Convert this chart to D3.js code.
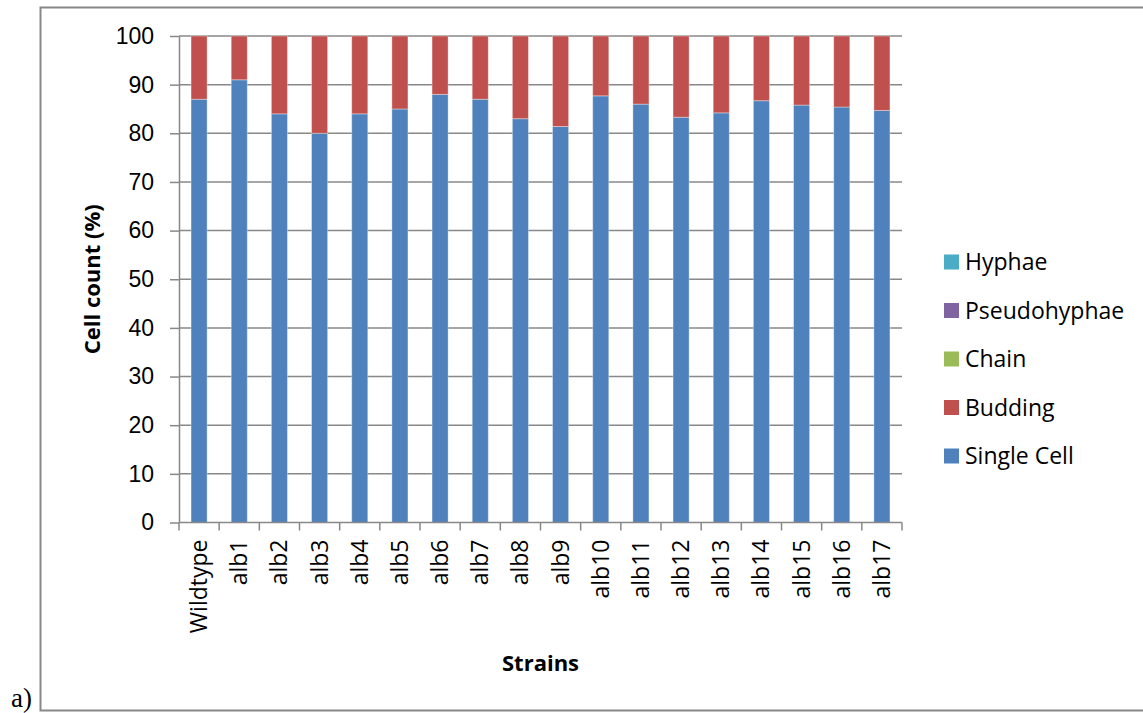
<!DOCTYPE html>
<html>
<head>
<meta charset="utf-8">
<script src="https://cdn.jsdelivr.net/npm/d3@7"></script>
<style>
  body { margin: 0; background: #fff; }
  svg { display: block; font-family: "Open Sans", "Noto Sans", sans-serif; }
  .grid line { stroke: #888; stroke-width: 1.5; }
  .axis path, .axis line { stroke: #888; stroke-width: 1.5; }
  .axis text { fill: #000; font-size: 23px; }
</style>
</head>
<body>
<svg id="chart" width="1143" height="713"></svg>
<script>
// strains on x axis
const strains = ["Wildtype", "alb1", "alb2", "alb3", "alb4", "alb5", "alb6", "alb7", "alb8",
  "alb9", "alb10", "alb11", "alb12", "alb13", "alb14", "alb15", "alb16", "alb17"];

// percentages per strain
const singleCell = [87, 91, 84, 80, 84, 85, 88, 87, 83, 81.4, 87.7, 86, 83.3, 84.2, 86.7, 85.8, 85.4, 84.7];
const budding = [13, 9, 16, 20, 16, 15, 12, 13, 17, 18.6, 12.3, 14, 16.7, 15.8, 13.3, 14.2, 14.6, 15.3];
const chain = [0, 0, 0, 0, 0, 0, 0, 0, 0, 0, 0, 0, 0, 0, 0, 0, 0, 0];
const pseudohyphae = [0, 0, 0, 0, 0, 0, 0, 0, 0, 0, 0, 0, 0, 0, 0, 0, 0, 0];
const hyphae = [0, 0, 0, 0, 0, 0, 0, 0, 0, 0, 0, 0, 0, 0, 0, 0, 0, 0];

const seriesNames = ["Single Cell", "Budding", "Chain", "Pseudohyphae", "Hyphae"];
const seriesColors = ["#4F81BD", "#C0504D", "#9BBB59", "#8064A2", "#4BACC6"];
const yTicks = [0, 10, 20, 30, 40, 50, 60, 70, 80, 90, 100];

const rows = strains.map(function (s, i) {
  return {
    strain: s,
    "Single Cell": singleCell[i],
    "Budding": budding[i],
    "Chain": chain[i],
    "Pseudohyphae": pseudohyphae[i],
    "Hyphae": hyphae[i]
  };
});

const svg = d3.select("#chart");
const plot = { left: 179, right: 902, top: 36, bottom: 522.5 };

// outer frame of the figure
svg.append("path")
  .attr("d", "M1145,7.5 H40.5 V710.5 H1145")
  .attr("fill", "none")
  .attr("stroke", "#888")
  .attr("stroke-width", 2);

svg.append("text")
  .attr("x", 11)
  .attr("y", 707)
  .style("font-family", "'Liberation Serif', 'DejaVu Serif', serif")
  .style("font-size", "27px")
  .text("a)");

const x = d3.scaleBand()
  .domain(strains)
  .range([plot.left, plot.right])
  .paddingInner(0.6)
  .paddingOuter(0.3);

const y = d3.scaleLinear()
  .domain([0, 100])
  .range([plot.bottom, plot.top]);

// gridlines
svg.append("g")
  .attr("class", "grid")
  .selectAll("line")
  .data(yTicks.filter(function (d) { return d > 0; }))
  .enter()
  .append("line")
  .attr("x1", plot.left)
  .attr("x2", plot.right)
  .attr("y1", function (d) { return y(d); })
  .attr("y2", function (d) { return y(d); });

// stacked bars
const stack = d3.stack().keys(seriesNames);
const layers = stack(rows);

svg.append("g")
  .selectAll("g")
  .data(layers)
  .enter()
  .append("g")
  .attr("fill", function (d, i) { return seriesColors[i]; })
  .selectAll("rect")
  .data(function (d) { return d; })
  .enter()
  .append("rect")
  .attr("x", function (d) { return x(d.data.strain); })
  .attr("width", x.bandwidth())
  .attr("y", function (d) { return y(d[1]); })
  .attr("height", function (d) { return y(d[0]) - y(d[1]); })
  .attr("stroke", "#fff")
  .attr("stroke-opacity", 0.35)
  .attr("stroke-width", 1);

// y axis
svg.append("g")
  .attr("class", "axis")
  .attr("transform", "translate(" + plot.left + ",0)")
  .call(d3.axisLeft(y).tickValues(yTicks).tickSize(9).tickSizeOuter(0).tickPadding(16));

// x axis with ticks at category boundaries
const xAxis = svg.append("g")
  .attr("class", "axis")
  .attr("transform", "translate(0," + plot.bottom + ")");

xAxis.append("line")
  .attr("x1", plot.left)
  .attr("x2", plot.right)
  .attr("y1", 0)
  .attr("y2", 0);

xAxis.selectAll(".bound")
  .data(d3.range(strains.length + 1))
  .enter()
  .append("line")
  .attr("class", "bound")
  .attr("x1", function (i) { return plot.left + i * (plot.right - plot.left) / strains.length; })
  .attr("x2", function (i) { return plot.left + i * (plot.right - plot.left) / strains.length; })
  .attr("y1", 0)
  .attr("y2", 8);

xAxis.selectAll(".lbl")
  .data(strains)
  .enter()
  .append("text")
  .attr("class", "lbl")
  .attr("transform", function (d) {
    return "translate(" + (x(d) + x.bandwidth() / 2 + 8) + ",17) rotate(-90)";
  })
  .attr("text-anchor", "end")
  .text(function (d) { return d; });

// axis titles
svg.append("text")
  .attr("transform", "translate(" + 100 + "," + ((plot.top + plot.bottom) / 2) + ") rotate(-90)")
  .attr("text-anchor", "middle")
  .style("font-size", "22px")
  .style("font-weight", "bold")
  .text("Cell count (%)");

svg.append("text")
  .attr("x", (plot.left + plot.right) / 2)
  .attr("y", 671)
  .attr("text-anchor", "middle")
  .style("font-size", "22px")
  .style("font-weight", "bold")
  .text("Strains");

// legend, top to bottom in reverse stack order
const legendItems = seriesNames.slice().reverse();
const legend = svg.append("g")
  .selectAll("g")
  .data(legendItems)
  .enter()
  .append("g")
  .attr("transform", function (d, i) { return "translate(944," + (262 + i * 48.5) + ")"; });

legend.append("rect")
  .attr("x", 0)
  .attr("y", -7.5)
  .attr("width", 15)
  .attr("height", 15)
  .attr("fill", function (d) { return seriesColors[seriesNames.indexOf(d)]; });

legend.append("text")
  .attr("x", 21)
  .attr("y", 8)
  .style("font-size", "23px")
  .text(function (d) { return d; });
</script>
</body>
</html>
